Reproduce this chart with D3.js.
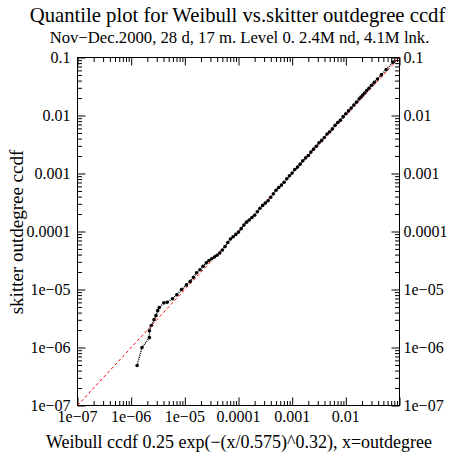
<!DOCTYPE html>
<html>
<head>
<meta charset="utf-8">
<script src="https://cdn.jsdelivr.net/npm/d3@7"></script>
<style>
  html, body { margin: 0; padding: 0; background: #fff; }
  svg { display: block; }
  text { font-family: "Liberation Serif", "Times New Roman", serif; fill: #000; }
</style>
</head>
<body>
<svg id="chart" width="452" height="458"></svg>
<script>
// ---- data ----
const weibullCcdf = [
  1.29e-6, 1.59e-6, 2.19e-6, 2.19e-6, 2.37e-6, 2.67e-6, 2.90e-6, 3.12e-6, 3.34e-6, 4.07e-6,
  4.68e-6, 5.89e-6, 7.08e-6, 8.71e-6, 1.07e-5, 1.26e-5, 1.45e-5, 1.66e-5, 1.91e-5, 2.19e-5,
  2.51e-5, 2.82e-5, 3.16e-5, 3.55e-5, 3.98e-5,
  4.47e-5, 5.01e-5, 5.62e-5, 6.31e-5, 7.08e-5, 7.94e-5, 8.91e-5, 1.00e-4, 1.12e-4, 1.26e-4,
  1.41e-4, 1.58e-4, 1.78e-4, 2.00e-4, 2.24e-4, 2.51e-4, 2.82e-4, 3.16e-4, 3.55e-4, 3.98e-4,
  4.47e-4, 5.01e-4, 5.62e-4, 6.31e-4, 7.08e-4, 7.94e-4, 8.91e-4, 1.00e-3, 1.12e-3, 1.26e-3,
  1.41e-3, 1.58e-3, 1.78e-3, 2.00e-3, 2.24e-3, 2.51e-3, 2.82e-3, 3.16e-3, 3.55e-3, 3.98e-3,
  4.47e-3, 5.01e-3, 5.62e-3, 6.31e-3, 7.08e-3, 7.94e-3, 8.91e-3, 0.0100, 0.0112, 0.0126,
  0.0141, 0.0158,
  0.0178, 0.0191, 0.0207, 0.0224, 0.0245, 0.0270, 0.0301, 0.0339, 0.0389, 0.0458, 0.0564, 0.0757
];
const skitterCcdf = [
  4.90e-7, 1.00e-6, 1.48e-6, 1.95e-6, 2.40e-6, 3.02e-6, 3.55e-6, 4.32e-6, 4.90e-6, 5.89e-6,
  6.03e-6, 6.92e-6, 8.13e-6, 1.00e-5, 1.20e-5, 1.38e-5, 1.62e-5, 1.95e-5, 2.19e-5, 2.51e-5,
  2.88e-5, 3.16e-5, 3.39e-5, 3.63e-5, 3.89e-5,
  4.27e-5, 4.79e-5, 5.50e-5, 6.46e-5, 7.41e-5, 8.13e-5, 8.91e-5, 9.77e-5, 1.12e-4, 1.29e-4,
  1.45e-4, 1.58e-4, 1.74e-4, 1.91e-4, 2.19e-4, 2.51e-4, 2.82e-4, 3.09e-4, 3.39e-4, 3.89e-4,
  4.47e-4, 5.13e-4, 5.75e-4, 6.31e-4, 7.08e-4, 8.13e-4, 9.12e-4, 1.02e-3, 1.17e-3, 1.29e-3,
  1.45e-3, 1.66e-3, 1.86e-3, 2.04e-3, 2.34e-3, 2.63e-3, 2.95e-3, 3.39e-3, 3.72e-3, 4.17e-3,
  4.79e-3, 5.25e-3, 5.89e-3, 6.76e-3, 7.59e-3, 8.32e-3, 9.55e-3, 0.0107, 0.0120, 0.0135,
  0.0151, 0.0170,
  0.0195, 0.0209, 0.0226, 0.0245, 0.0269, 0.0295, 0.0331, 0.0372, 0.0427, 0.0501, 0.0617, 0.0832
];
const domainMin = 1e-7, domainMax = 0.1;
const tickValues = [1e-7, 1e-6, 1e-5, 1e-4, 1e-3, 1e-2, 1e-1];
const tickLabels = ["1e\u221207", "1e\u221206", "1e\u221205", "0.0001", "0.001", "0.01", "0.1"];
const xLabelTicks = [1e-7, 1e-6, 1e-5, 1e-4, 1e-3, 1e-2];
const titleText = "Quantile plot for Weibull vs.skitter outdegree ccdf";
const subtitleText = "Nov\u2212Dec.2000, 28 d, 17 m. Level 0. 2.4M nd, 4.1M lnk.";
const xTitle = "Weibull ccdf 0.25 exp(\u2212(x/0.575)^0.32), x=outdegree";
const yTitle = "skitter outdegree ccdf";

// ---- layout ----
const L = 77.5, R = 399.5, T = 57.5, B = 405.5;
const svg = d3.select("#chart");
const x = d3.scaleLog().domain([domainMin, domainMax]).range([L, R]);
const y = d3.scaleLog().domain([domainMin, domainMax]).range([B, T]);

// minor ticks
const minorVals = [];
for (let e = -7; e < -1; e++) for (let m = 2; m <= 9; m++) minorVals.push(m * Math.pow(10, e));
const MAJ = 8, MIN = 4.5;
const fmt = v => tickLabels[tickValues.indexOf(v)];

function addAxis(axisGen, transform) {
  const g = svg.append("g").attr("transform", transform).call(axisGen);
  g.select(".domain").remove();
  g.selectAll("line").attr("stroke", "#000").attr("stroke-width", 1);
  return g;
}
addAxis(d3.axisTop(x).tickValues(tickValues).tickSize(MAJ).tickFormat(""), `translate(0,${B})`);
addAxis(d3.axisTop(x).tickValues(minorVals).tickSize(MIN).tickFormat(""), `translate(0,${B})`);
addAxis(d3.axisBottom(x).tickValues(tickValues).tickSize(MAJ).tickFormat(""), `translate(0,${T})`);
addAxis(d3.axisBottom(x).tickValues(minorVals).tickSize(MIN).tickFormat(""), `translate(0,${T})`);
addAxis(d3.axisRight(y).tickValues(tickValues).tickSize(MAJ).tickFormat(""), `translate(${L},0)`);
addAxis(d3.axisRight(y).tickValues(minorVals).tickSize(MIN).tickFormat(""), `translate(${L},0)`);
addAxis(d3.axisLeft(y).tickValues(tickValues).tickSize(MAJ).tickFormat(""), `translate(${R},0)`);
addAxis(d3.axisLeft(y).tickValues(minorVals).tickSize(MIN).tickFormat(""), `translate(${R},0)`);

// tick labels
const FS = 16;
svg.append("g").selectAll("text").data(tickValues).join("text")
  .attr("x", L - 7).attr("y", d => y(d) + 5).attr("text-anchor", "end")
  .attr("font-size", FS).text(fmt);
svg.append("g").selectAll("text").data(tickValues).join("text")
  .attr("x", R + 4).attr("y", d => y(d) + 5).attr("text-anchor", "start")
  .attr("font-size", FS).text(fmt);
svg.append("g").selectAll("text").data(xLabelTicks).join("text")
  .attr("x", d => x(d)).attr("y", B + 16).attr("text-anchor", "middle")
  .attr("font-size", FS).text(fmt);

// frame
svg.append("rect").attr("x", L).attr("y", T).attr("width", R - L).attr("height", B - T)
  .attr("fill", "none").attr("stroke", "#000").attr("stroke-width", 1);

// diagonal reference (red dashed)
svg.append("line")
  .attr("x1", x(domainMin)).attr("y1", y(domainMin))
  .attr("x2", x(domainMax)).attr("y2", y(domainMax))
  .attr("stroke", "#ff0000").attr("stroke-width", 1).attr("stroke-dasharray", "3,2.5");

// data
const pts = weibullCcdf.map((v, i) => [v, skitterCcdf[i]]);
svg.append("path").datum(pts)
  .attr("d", d3.line().x(d => x(d[0])).y(d => y(d[1])))
  .attr("fill", "none").attr("stroke", "#000").attr("stroke-width", 1.4)
  .attr("stroke-dasharray", "1,1");
svg.append("g").selectAll("circle").data(pts).join("circle")
  .attr("cx", d => x(d[0])).attr("cy", d => y(d[1])).attr("r", 1.8)
  .attr("fill", "#000");

// titles
svg.append("text").attr("x", 237.5).attr("y", 22).attr("text-anchor", "middle")
  .attr("font-size", 20.7).text(titleText);
svg.append("text").attr("x", 239.5).attr("y", 43).attr("text-anchor", "middle")
  .attr("font-size", 16.7).text(subtitleText);
svg.append("text").attr("x", 239).attr("y", 448).attr("text-anchor", "middle")
  .attr("font-size", 18).text(xTitle);
svg.append("text").attr("transform", `translate(23,232) rotate(-90)`).attr("text-anchor", "middle")
  .attr("font-size", 19).text(yTitle);
</script>
</body>
</html>
